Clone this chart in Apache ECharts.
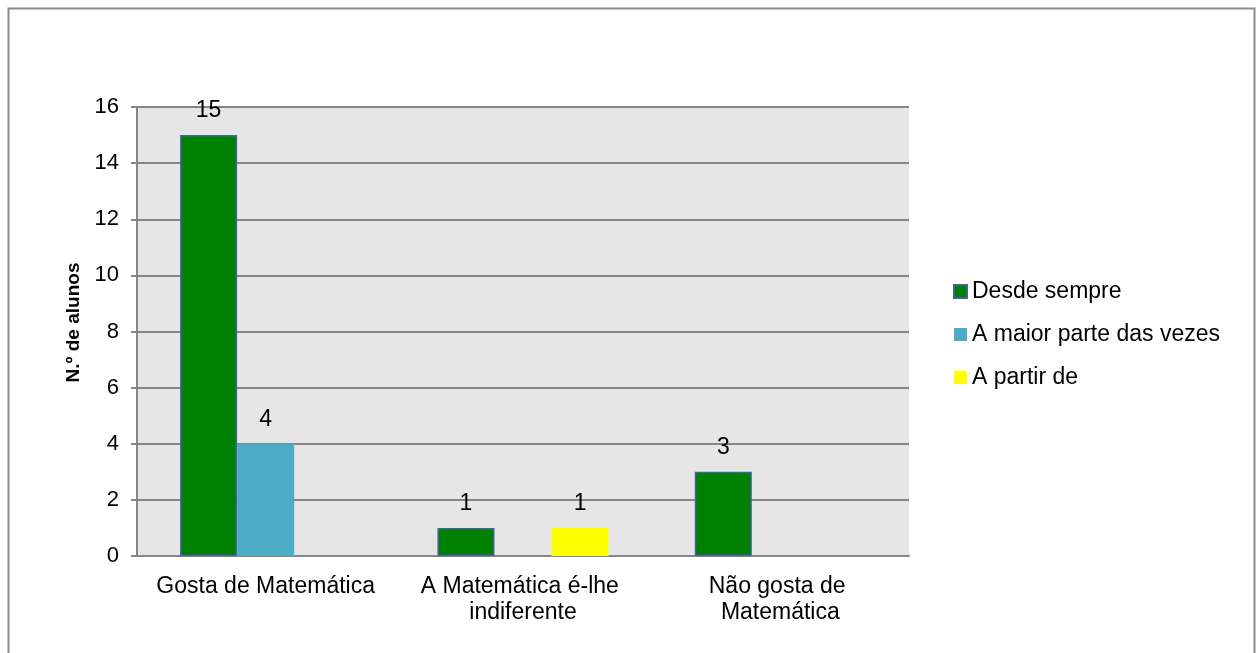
<!DOCTYPE html>
<html>
<head>
<meta charset="utf-8">
<script src="https://cdn.jsdelivr.net/npm/echarts@6/dist/echarts.min.js"></script>
<style>
  html, body { margin: 0; padding: 0; background: #fff; }
  #chart { width: 1256px; height: 653px; }
</style>
</head>
<body>
<div id="chart"></div>
<script>
  var categories = ['Gosta de Matemática', 'A Matemática é-lhe indiferente', 'Não gosta de Matemática'];
  var desdeSempre = [15, 1, 3];
  var maiorParte = [4, null, null];
  var aPartirDe = [null, 1, null];
  var seriesNames = ['Desde sempre', 'A maior parte das vezes', 'A partir de'];

  var font = "'Liberation Sans', Arial, sans-serif";
  var labelStyle = {
    show: true,
    position: 'top',
    distance: 13,
    color: '#000',
    fontSize: 23,
    fontFamily: font
  };

  var chart = echarts.init(document.getElementById('chart'));
  chart.setOption({
    animation: false,
    backgroundColor: '#fff',
    textStyle: { fontFamily: font },
    graphic: [{
      type: 'rect',
      shape: { x: 8.5, y: 8.5, width: 1246, height: 700 },
      style: { fill: 'none', stroke: '#8c8c8c', lineWidth: 2 },
      silent: true
    }],
    grid: {
      left: 137,
      top: 107,
      right: 347,
      bottom: 97,
      show: true,
      backgroundColor: '#e6e6e6',
      borderWidth: 0
    },
    legend: {
      orient: 'vertical',
      left: 953,
      top: 280,
      padding: 0,
      itemWidth: 13,
      itemHeight: 13,
      itemGap: 20,
      icon: 'rect',
      textStyle: { fontSize: 23, color: '#000', fontFamily: font },
      data: seriesNames
    },
    xAxis: {
      type: 'category',
      data: categories,
      axisLine: { lineStyle: { color: '#868686', width: 2 } },
      axisTick: { show: false },
      axisLabel: {
        color: '#000',
        fontSize: 23,
        fontFamily: font,
        margin: 18,
        lineHeight: 26,
        width: 245,
        overflow: 'break',
        interval: 0
      }
    },
    yAxis: {
      type: 'value',
      min: 0,
      max: 16,
      interval: 2,
      name: 'N.º de alunos',
      nameLocation: 'middle',
      nameGap: 48,
      nameTextStyle: {
        fontSize: 19,
        fontWeight: 'bold',
        color: '#000',
        fontFamily: font,
        padding: [0, 0, 0, 18]
      },
      axisLine: { show: true, lineStyle: { color: '#868686', width: 2 } },
      axisTick: { show: true, length: 6, lineStyle: { color: '#868686', width: 2 } },
      axisLabel: { color: '#000', fontSize: 22, fontFamily: font, margin: 18 },
      splitLine: { lineStyle: { color: '#868686', width: 2 } }
    },
    series: [
      {
        name: seriesNames[0],
        type: 'bar',
        data: desdeSempre,
        barGap: 0,
        barCategoryGap: '33.5%',
        itemStyle: { color: '#008000', borderColor: '#40639a', borderWidth: 1.5 },
        label: labelStyle
      },
      {
        name: seriesNames[1],
        type: 'bar',
        data: maiorParte,
        itemStyle: { color: '#4bacc6' },
        label: labelStyle
      },
      {
        name: seriesNames[2],
        type: 'bar',
        data: aPartirDe,
        itemStyle: { color: '#ffff00' },
        label: labelStyle
      }
    ]
  });
</script>
</body>
</html>
